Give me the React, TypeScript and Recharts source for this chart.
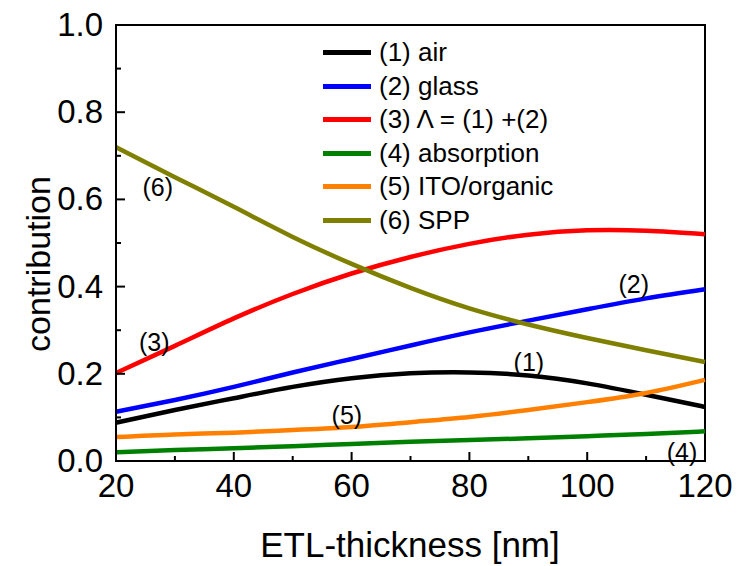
import React from 'react';
import { LineChart, Line, XAxis, YAxis, ReferenceArea, ReferenceDot, Label } from 'recharts';

const thickness = [20, 30, 40, 50, 60, 70, 80, 90, 100, 110, 120];
const air = [0.088, 0.117, 0.144, 0.17, 0.19, 0.201, 0.203, 0.196, 0.178, 0.152, 0.124];
const glass = [0.113, 0.14, 0.17, 0.203, 0.234, 0.265, 0.295, 0.322, 0.348, 0.373, 0.394];
const lambda = [0.202, 0.264, 0.327, 0.383, 0.43, 0.468, 0.498, 0.519, 0.529, 0.528, 0.52];
const absorption = [0.02, 0.025, 0.029, 0.034, 0.039, 0.044, 0.048, 0.052, 0.057, 0.062, 0.068];
const itoOrganic = [0.055, 0.061, 0.065, 0.071, 0.078, 0.089, 0.101, 0.117, 0.135, 0.156, 0.186];
const spp = [0.72, 0.651, 0.583, 0.514, 0.452, 0.397, 0.35, 0.313, 0.282, 0.254, 0.227];

const seriesNames = ['(1) air', '(2) glass', '(3) \u039B = (1) +(2)', '(4) absorption', '(5) ITO/organic', '(6) SPP'];
const seriesKeys = ['air', 'glass', 'lambda', 'absorption', 'ito', 'spp'];
const seriesColors = ['#000000', '#0000ff', '#ff0000', '#008000', '#ff8000', '#808000'];
const seriesValues = [air, glass, lambda, absorption, itoOrganic, spp];

const xTicks = [20, 30, 40, 50, 60, 70, 80, 90, 100, 110, 120];
const yTicks = [0, 0.1, 0.2, 0.3, 0.4, 0.5, 0.6, 0.7, 0.8, 0.9, 1.0];

const curveLabels = [
  { text: '(6)', x: 27.1, y: 0.628 },
  { text: '(3)', x: 26.5, y: 0.273 },
  { text: '(2)', x: 107.9, y: 0.406 },
  { text: '(1)', x: 90.1, y: 0.227 },
  { text: '(5)', x: 59.2, y: 0.105 },
  { text: '(4)', x: 116.1, y: 0.02 },
];

const data = thickness.map((t, i) => {
  const row: any = { t };
  seriesKeys.forEach((k, j) => (row[k] = seriesValues[j][i]));
  return row;
});

const FONT = 'Arial, "Liberation Sans", sans-serif';

const XTick = (props: any) => {
  const { x, y, payload } = props;
  const major = payload.value % 20 === 0;
  return (
    <g>
      <line x1={x} y1={y} x2={x} y2={y - (major ? 9 : 5)} stroke="#000" strokeWidth={2} />
      {major && (
        <text x={x} y={y + 36} textAnchor="middle" fontSize={33} fontFamily={FONT} fill="#000">
          {payload.value}
        </text>
      )}
    </g>
  );
};

const YTick = (props: any) => {
  const { x, y, payload } = props;
  const v = Math.round(payload.value * 10);
  const major = v % 2 === 0;
  return (
    <g>
      <line x1={x} y1={y} x2={x + (major ? 9 : 5)} y2={y} stroke="#000" strokeWidth={2} />
      {major && (
        <text x={x - 13} y={y + 11} textAnchor="end" fontSize={33} fontFamily={FONT} fill="#000">
          {payload.value.toFixed(1)}
        </text>
      )}
    </g>
  );
};

const LegendBox = () => (
  <div
    style={{
      position: 'absolute',
      left: 323,
      top: 36,
      fontFamily: FONT,
      fontSize: 26,
      lineHeight: '33.5px',
      color: '#000',
      pointerEvents: 'none',
    }}
  >
    {seriesNames.map((n, i) => (
      <div key={n} style={{ display: 'flex', alignItems: 'center', whiteSpace: 'nowrap', height: 33.5 }}>
        <span style={{ display: 'inline-block', width: 48, height: 5, background: seriesColors[i], marginRight: 8 }} />
        <span>{n}</span>
      </div>
    ))}
  </div>
);

export default function App() {
  return (
    <div style={{ position: 'absolute', left: 0, top: 0, width: 738, height: 566, background: '#fff' }}>
      <LineChart width={738} height={566} data={data} margin={{ top: 25, right: 33, bottom: 0, left: 0 }}>
        <XAxis
          dataKey="t"
          type="number"
          domain={[20, 120]}
          ticks={xTicks}
          interval={0}
          tickSize={0}
          tickMargin={0}
          tick={<XTick />}
          axisLine={{ stroke: '#000', strokeWidth: 2 }}
          height={105}
        >
          <Label
            content={() => (
              <text x={410} y={557} textAnchor="middle" fontSize={35} fontFamily={FONT} fill="#000">
                ETL-thickness [nm]
              </text>
            )}
          />
        </XAxis>
        <YAxis
          type="number"
          domain={[0, 1]}
          ticks={yTicks}
          interval={0}
          tickSize={0}
          tickMargin={0}
          tick={<YTick />}
          axisLine={{ stroke: '#000', strokeWidth: 2 }}
          width={116}
        >
          <Label
            content={() => (
              <text
                x={0}
                y={0}
                transform="translate(50,264) rotate(-90)"
                textAnchor="middle"
                fontSize={34}
                fontFamily={FONT}
                fill="#000"
              >
                contribution
              </text>
            )}
          />
        </YAxis>
        <ReferenceArea x1={20} x2={120} y1={0} y2={1} fill="none" stroke="#000" strokeWidth={2} ifOverflow="visible" />
        {seriesKeys.map((k, i) => (
          <Line
            key={k}
            dataKey={k}
            name={seriesNames[i]}
            type="natural"
            stroke={seriesColors[i]}
            strokeWidth={4.5}
            dot={false}
            activeDot={false}
            isAnimationActive={false}
          />
        ))}
        {curveLabels.map((l) => (
          <ReferenceDot
            key={l.text}
            x={l.x}
            y={l.y}
            r={0}
            fill="none"
            stroke="none"
            ifOverflow="visible"
            label={{ value: l.text, position: 'center', fontSize: 25, fontFamily: FONT, fill: '#000' }}
          />
        ))}
      </LineChart>
      <LegendBox />
    </div>
  );
}
